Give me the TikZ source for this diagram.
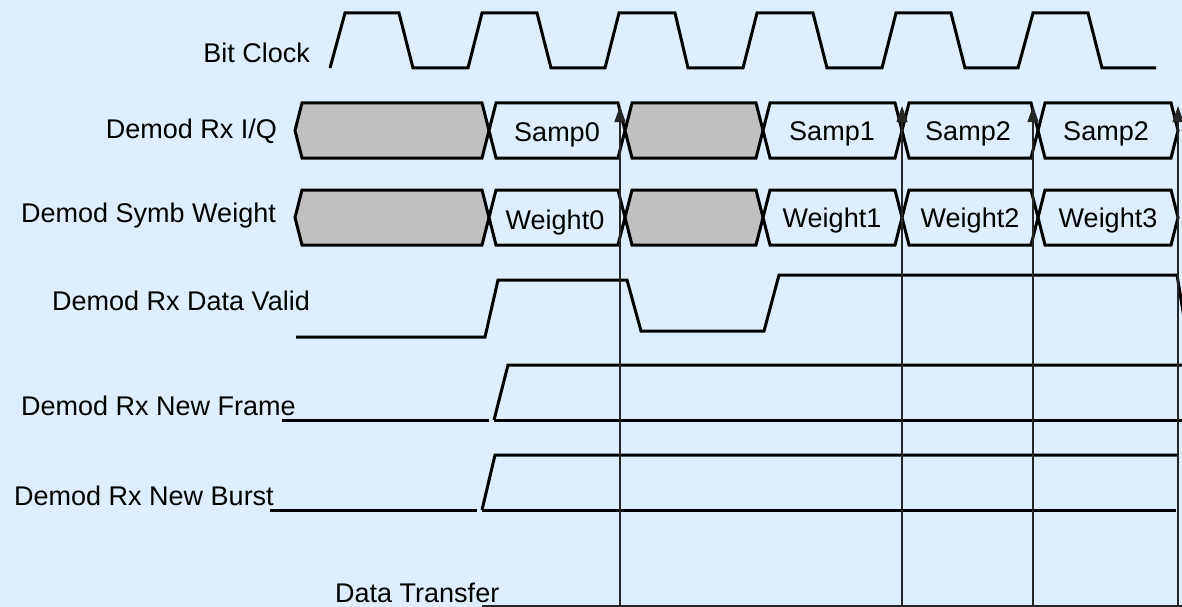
\documentclass[tikz,border=0pt]{standalone}
\usepackage{fontspec}
\setmainfont{Liberation Sans}
\usetikzlibrary{arrows.meta}
\definecolor{bgblue}{RGB}{222,238,255}
\definecolor{busgray}{RGB}{192,192,192}
\begin{document}
\begin{tikzpicture}[x=1pt,y=-1pt,
    lbl/.style={anchor=base east,inner sep=0pt,font=\fontsize{27}{32}\selectfont},
    segtxt/.style={anchor=base,inner sep=0pt,font=\fontsize{27}{32}\selectfont},
    wave/.style={line width=3pt},
    xferline/.style={line width=1.2pt,draw=black!85,fill=black}]
	\fill[bgblue] (0,0) rectangle (1182,607);
	\useasboundingbox (0,0) rectangle (1182,607);
	\clip (0,0) rectangle (1182,607);
	% signal names
	\node (bitclk) [lbl] at (310,63) {Bit Clock};
	\node (rxiq) [lbl] at (277,139) {Demod Rx I/Q};
	\node (symbwt) [lbl] at (276,222) {Demod Symb Weight};
	\node (datavalid) [lbl] at (310,310) {Demod Rx Data Valid};
	\node (newframe) [lbl] at (296,415) {Demod Rx New Frame};
	\node (newburst) [lbl] at (274,505) {Demod Rx New Burst};
	\node (xfer) [lbl,anchor=base west] at (335,602) {Data Transfer};
	% bit clock
	\draw [wave] (330,68) -- (345,13) -- (399,13) -- (413,68) -- (468,68) -- (482,13) -- (537,13) -- (551,68)
		-- (605,68) -- (619,13) -- (675,13) -- (688,68) -- (743,68) -- (757,13) -- (813,13) -- (827,68)
		-- (882,68) -- (896,13) -- (951,13) -- (965,68) -- (1018,68) -- (1033,13) -- (1088,13) -- (1102,68) -- (1156,68);
	% I/Q and weight buses
	\foreach \a/\b/\c in {295/489/busgray,489/625/bgblue,625/763/busgray,763/902/bgblue,902/1038/bgblue,1038/1178/bgblue} {
		\draw [wave,fill=\c] (\a,130.5) -- (\a+7,103) -- (\b-7,103) -- (\b,130.5) -- (\b-7,158) -- (\a+7,158) -- cycle;
		\draw [wave,fill=\c] (\a,217.5) -- (\a+7,190) -- (\b-7,190) -- (\b,217.5) -- (\b-7,245) -- (\a+7,245) -- cycle;
	}
	\node (samp0) [segtxt] at (557,141) {Samp0};
	\node (samp1) [segtxt] at (832,140) {Samp1};
	\node (samp2a) [segtxt] at (968,140) {Samp2};
	\node (samp2b) [segtxt] at (1106,140) {Samp2};
	\node (weight0) [segtxt] at (555,229) {Weight0};
	\node (weight1) [segtxt] at (832,227) {Weight1};
	\node (weight2) [segtxt] at (970,227) {Weight2};
	\node (weight3) [segtxt] at (1108,227) {Weight3};
	% data valid, new frame, new burst
	\draw [wave] (296,337) -- (485,337) -- (498,280) -- (627,280) -- (641,331) -- (764,331) -- (779,275) -- (1177,275) -- (1186,330);
	\draw [wave] (282,420) -- (489,420);
	\draw [wave] (494,420) -- (1182,420);
	\draw [wave] (494,420) -- (508,365) -- (1182,365);
	\draw [wave] (270,510) -- (477,510);
	\draw [wave] (482,510) -- (1176,510);
	\draw [wave] (482,510) -- (495,455) -- (1178,455);
	% data transfer marks
	\coordinate (xferstart) at (482,606);
	\coordinate (xferend) at (1182,606);
	\draw [xferline] (xferstart) -- (xferend);
	\foreach \x/\n in {620/0,902/1,1033/2,1178/3} {
		\coordinate (foot\n) at (\x,606);
		\coordinate (tip\n) at (\x,106);
		\draw [xferline,-{Triangle[length=16pt,width=11pt]}] (foot\n) -- (tip\n);
	}
\end{tikzpicture}
\end{document}
